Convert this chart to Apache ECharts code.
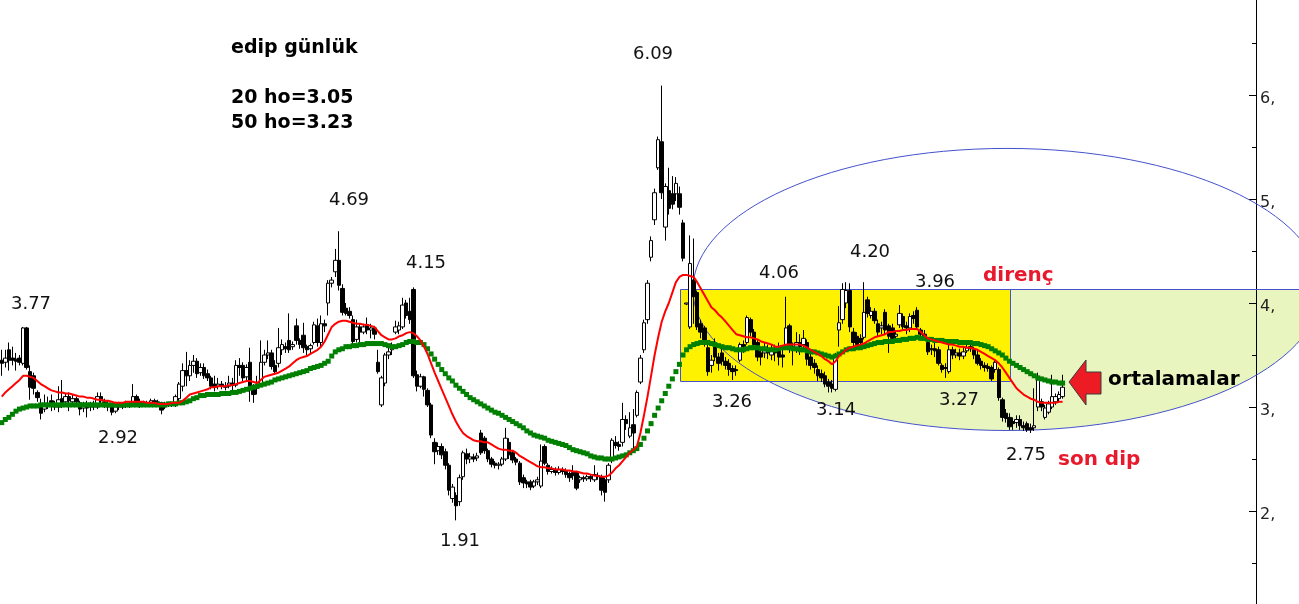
<!DOCTYPE html>
<html><head><meta charset="utf-8">
<script src="https://cdn.jsdelivr.net/npm/echarts@6/dist/echarts.min.js"></script>
<style>html,body{margin:0;padding:0;background:#fff}#c{width:1299px;height:604px}</style>
</head><body><div id="c"></div>
<script>
// ---------- DATA ----------
// candles: [open, close, low, high]
const candles = [
[3.45,3.42,3.30,3.55],[3.43,3.47,3.38,3.55],[3.55,3.45,3.35,3.62],[3.47,3.45,3.40,3.58],[3.46,3.44,3.35,3.52],[3.47,3.43,3.40,3.50],[3.42,3.76,3.40,3.77],[3.76,3.38,3.36,3.77],[3.34,3.19,3.07,3.40],[3.30,3.18,3.12,3.33],
[3.14,3.09,3.05,3.16],[3.02,2.94,2.88,3.08],[2.98,3.02,2.95,3.12],[3.03,3.02,2.98,3.10],[3.06,3.03,2.96,3.12],[3.02,3.00,2.97,3.06],[3.00,3.07,2.95,3.20],[3.08,3.04,2.99,3.26],[3.05,3.10,3.01,3.13],[3.10,3.06,2.96,3.14],
[3.05,3.08,3.02,3.12],[3.08,3.05,3.00,3.10],[3.04,2.98,2.92,3.06],[2.99,3.02,2.95,3.05],[3.02,2.99,2.90,3.06],[3.00,3.02,2.96,3.05],[3.02,3.00,2.97,3.06],[3.00,3.10,2.98,3.14],[3.10,3.06,3.02,3.14],[3.05,3.03,2.99,3.08],
[3.03,3.00,2.96,3.06],[3.00,2.95,2.92,3.02],[2.96,3.00,2.94,3.05],[3.00,3.02,2.97,3.05],[3.02,3.00,2.98,3.04],[3.01,3.03,2.99,3.06],[3.03,3.02,2.99,3.05],[3.04,3.10,3.02,3.22],[3.10,3.03,3.00,3.12],[3.05,3.02,2.99,3.08],
[3.02,3.04,3.00,3.06],[3.04,3.03,3.00,3.06],[3.03,3.06,3.01,3.08],[3.06,3.04,3.02,3.08],[3.04,3.05,3.02,3.07],[3.04,2.97,2.93,3.05],[3.00,3.02,2.98,3.05],[3.02,3.03,3.00,3.05],[3.03,3.02,3.00,3.05],[3.03,3.10,3.00,3.12],
[3.08,3.22,3.05,3.24],[3.20,3.35,3.15,3.42],[3.35,3.30,3.20,3.53],[3.30,3.40,3.25,3.45],[3.40,3.44,3.33,3.50],[3.44,3.32,3.28,3.47],[3.33,3.38,3.30,3.42],[3.38,3.30,3.27,3.42],[3.32,3.28,3.25,3.36],[3.28,3.20,3.17,3.30],
[3.22,3.19,3.15,3.30],[3.20,3.22,3.17,3.28],[3.22,3.20,3.17,3.25],[3.20,3.19,3.16,3.24],[3.20,3.23,3.18,3.30],[3.23,3.21,3.15,3.28],[3.21,3.40,3.19,3.45],[3.40,3.38,3.30,3.47],[3.40,3.28,3.25,3.43],[3.29,3.38,3.26,3.41],
[3.43,3.20,3.05,3.57],[3.17,3.12,3.04,3.22],[3.18,3.22,3.12,3.30],[3.22,3.43,3.20,3.64],[3.43,3.50,3.40,3.55],[3.50,3.52,3.46,3.64],[3.52,3.39,3.36,3.55],[3.40,3.34,3.32,3.45],[3.42,3.57,3.38,3.76],[3.55,3.60,3.50,3.65],
[3.58,3.56,3.52,3.62],[3.64,3.55,3.52,3.90],[3.58,3.60,3.55,3.63],[3.78,3.64,3.60,3.85],[3.64,3.60,3.56,3.66],[3.69,3.57,3.52,3.81],[3.58,3.55,3.50,3.60],[3.56,3.59,3.52,3.61],[3.62,3.79,3.60,3.82],[3.78,3.62,3.58,3.85],
[3.62,3.80,3.58,3.88],[3.80,3.78,3.72,3.84],[4.00,4.19,3.88,4.22],[4.19,4.22,4.15,4.25],[4.30,4.41,4.25,4.52],[4.41,4.17,4.12,4.69],[4.14,3.91,3.88,4.18],[3.95,3.90,3.88,4.00],[3.92,3.88,3.85,3.96],[3.84,3.63,3.60,3.88],
[3.65,3.77,3.62,3.84],[3.77,3.72,3.62,3.80],[3.72,3.77,3.70,3.80],[3.79,3.74,3.70,3.86],[3.74,3.76,3.66,3.80],[3.76,3.70,3.65,3.78],[3.43,3.34,3.32,3.55],[3.02,3.28,3.00,3.30],[3.23,3.50,3.20,3.52],[3.50,3.53,3.46,3.58],
[3.55,3.57,3.50,3.62],[3.72,3.77,3.70,3.83],[3.74,3.78,3.70,3.82],[3.77,3.98,3.75,4.05],[4.00,3.88,3.85,4.03],[3.92,3.84,3.80,4.05],[4.13,3.30,3.28,4.15],[3.31,3.20,3.15,3.35],[3.20,3.29,3.18,3.32],[3.29,3.17,3.10,3.30],
[3.16,3.02,3.00,3.18],[3.02,2.73,2.70,3.04],[2.66,2.57,2.45,2.70],[2.58,2.62,2.54,2.66],[2.62,2.54,2.50,2.65],[2.57,2.44,2.40,2.60],[2.44,2.20,2.15,2.46],[2.12,2.23,2.08,2.26],[2.15,2.05,1.91,2.18],[2.09,2.32,2.05,2.35],
[2.33,2.56,2.30,2.58],[2.55,2.50,2.45,2.60],[2.50,2.52,2.46,2.56],[2.52,2.50,2.47,2.55],[2.51,2.53,2.48,2.56],[2.75,2.56,2.54,2.78],[2.70,2.58,2.55,2.72],[2.58,2.50,2.47,2.60],[2.50,2.45,2.42,2.52],[2.46,2.44,2.41,2.48],
[2.44,2.45,2.40,2.47],[2.45,2.50,2.43,2.52],[2.50,2.70,2.48,2.80],[2.66,2.54,2.50,2.70],[2.56,2.49,2.46,2.58],[2.50,2.47,2.44,2.52],[2.46,2.28,2.25,2.48],[2.32,2.27,2.22,2.35],[2.28,2.26,2.22,2.30],[2.28,2.23,2.20,2.30],
[2.24,2.28,2.22,2.30],[2.28,2.30,2.25,2.33],[2.24,2.48,2.22,2.64],[2.62,2.46,2.44,2.64],[2.44,2.38,2.35,2.46],[2.38,2.40,2.36,2.43],[2.40,2.37,2.34,2.42],[2.37,2.40,2.35,2.43],[2.40,2.38,2.35,2.42],[2.38,2.35,2.32,2.41],
[2.36,2.32,2.28,2.38],[2.37,2.34,2.30,2.44],[2.37,2.22,2.20,2.38],[2.30,2.32,2.27,2.34],[2.32,2.31,2.28,2.34],[2.31,2.33,2.29,2.35],[2.33,2.31,2.28,2.35],[2.30,2.35,2.28,2.44],[2.34,2.33,2.30,2.37],[2.33,2.20,2.15,2.35],
[2.30,2.18,2.09,2.32],[2.30,2.44,2.27,2.46],[2.49,2.68,2.46,2.70],[2.66,2.63,2.60,2.72],[2.64,2.62,2.58,2.67],[2.66,2.88,2.62,3.04],[2.88,2.84,2.78,2.92],[2.72,2.80,2.70,2.95],[2.83,2.75,2.60,2.98],[2.92,3.14,2.90,3.16],
[3.24,3.47,3.22,3.50],[3.55,3.81,3.52,3.84],[3.84,4.19,3.80,4.22],[4.44,4.60,4.40,4.64],[4.80,5.06,4.75,5.10],[5.30,5.57,5.28,5.60],[5.55,5.06,5.00,6.09],[4.73,5.12,4.60,5.15],[5.08,4.91,4.85,5.30],[5.05,4.95,4.90,5.22],
[5.05,5.15,4.98,5.21],[5.05,4.92,4.85,5.12],[4.77,4.43,4.40,4.80],[3.99,4.00,3.98,4.00],[3.77,4.38,3.75,4.65],[4.22,4.06,3.80,4.62],[4.10,3.77,3.74,4.12],[3.80,3.72,3.66,3.84],[3.76,3.64,3.58,3.78],[3.57,3.34,3.30,3.60],
[3.40,3.45,3.33,3.50],[3.58,3.48,3.44,3.66],[3.48,3.42,3.35,3.52],[3.52,3.44,3.40,3.56],[3.44,3.40,3.36,3.48],[3.42,3.36,3.30,3.46],[3.37,3.34,3.26,3.40],[3.36,3.35,3.30,3.40],[3.45,3.60,3.43,3.62],[3.60,3.58,3.52,3.64],
[3.62,3.86,3.60,3.88],[3.84,3.72,3.68,3.86],[3.72,3.60,3.55,3.75],[3.62,3.48,3.44,3.65],[3.52,3.48,3.40,3.58],[3.52,3.54,3.47,3.62],[3.54,3.52,3.46,3.60],[3.50,3.55,3.45,3.60],[3.56,3.52,3.44,3.60],[3.58,3.48,3.40,3.62],
[3.50,3.48,3.38,3.56],[3.60,3.76,3.58,4.06],[3.78,3.56,3.52,3.80],[3.58,3.55,3.40,3.62],[3.56,3.62,3.52,3.72],[3.62,3.58,3.50,3.70],[3.60,3.66,3.55,3.74],[3.62,3.46,3.40,3.65],[3.48,3.40,3.36,3.52],[3.42,3.38,3.32,3.46],
[3.36,3.30,3.25,3.40],[3.32,3.28,3.24,3.36],[3.30,3.22,3.19,3.34],[3.24,3.20,3.14,3.27],[3.22,3.18,3.14,3.26],[3.17,3.48,3.15,3.52],[3.74,3.81,3.58,3.97],[3.84,4.13,3.80,4.19],[4.00,4.12,3.95,4.20],[4.12,3.77,3.72,4.19],
[3.72,3.62,3.58,3.76],[3.68,3.60,3.56,3.72],[3.66,3.62,3.55,3.70],[3.67,3.91,3.65,4.20],[4.03,3.90,3.86,4.06],[3.88,3.92,3.85,3.96],[3.92,3.83,3.80,3.95],[3.80,3.72,3.68,3.84],[3.76,3.78,3.70,3.82],[3.91,3.74,3.70,3.94],
[3.78,3.68,3.52,3.80],[3.76,3.66,3.62,3.80],[3.68,3.70,3.64,3.74],[3.79,3.90,3.76,3.98],[3.87,3.77,3.74,3.90],[3.78,3.76,3.70,3.82],[3.76,3.87,3.72,3.90],[3.88,3.85,3.80,3.92],[3.93,3.77,3.74,3.96],[3.74,3.70,3.66,3.76],
[3.70,3.68,3.64,3.74],[3.62,3.53,3.50,3.65],[3.56,3.55,3.50,3.60],[3.56,3.54,3.48,3.62],[3.55,3.42,3.40,3.58],[3.40,3.36,3.33,3.42],[3.38,3.37,3.28,3.42],[3.34,3.55,3.32,3.60],[3.55,3.50,3.46,3.58],[3.50,3.52,3.47,3.56],
[3.52,3.49,3.45,3.56],[3.49,3.53,3.46,3.58],[3.54,3.57,3.52,3.62],[3.58,3.56,3.53,3.62],[3.55,3.50,3.46,3.58],[3.50,3.42,3.40,3.54],[3.44,3.40,3.36,3.47],[3.40,3.38,3.34,3.43],[3.39,3.37,3.34,3.42],[3.38,3.27,3.25,3.40],
[3.36,3.43,3.33,3.45],[3.36,3.09,3.06,3.38],[3.07,2.90,2.86,3.09],[2.94,2.89,2.85,2.98],[2.90,2.81,2.78,2.94],[2.86,2.84,2.78,2.90],[2.85,2.88,2.80,2.92],[2.88,2.82,2.78,2.92],[2.82,2.80,2.77,2.86],[2.84,2.78,2.76,2.86],
[2.80,2.78,2.75,2.84],[2.80,2.82,2.77,3.18],[3.00,3.26,2.96,3.33],[3.05,3.00,2.96,3.08],[2.90,2.99,2.88,3.02],[2.95,3.03,2.93,3.06],[3.00,3.10,2.98,3.31],[3.05,3.10,3.02,3.13],[3.08,3.12,3.05,3.15],[3.10,3.19,3.08,3.31]
];
// 20-bar average (red)
const ma20 = [
3.10,3.14,3.17,3.20,3.23,3.26,3.30,3.30,3.29,3.28,
3.25,3.22,3.20,3.18,3.16,3.15,3.14,3.14,3.13,3.13,
3.12,3.11,3.10,3.10,3.09,3.09,3.08,3.07,3.07,3.06,
3.06,3.05,3.04,3.04,3.04,3.05,3.05,3.05,3.05,3.05,
3.05,3.04,3.04,3.04,3.03,3.03,3.03,3.03,3.04,3.04,
3.04,3.06,3.09,3.12,3.13,3.14,3.15,3.16,3.17,3.19,
3.19,3.20,3.20,3.20,3.21,3.21,3.22,3.23,3.24,3.25,
3.25,3.24,3.23,3.26,3.29,3.30,3.31,3.32,3.33,3.35,
3.37,3.39,3.42,3.45,3.47,3.48,3.49,3.51,3.53,3.55,
3.58,3.63,3.70,3.77,3.80,3.82,3.83,3.83,3.82,3.81,
3.80,3.80,3.79,3.79,3.78,3.77,3.73,3.69,3.67,3.65,
3.65,3.66,3.68,3.69,3.71,3.72,3.71,3.68,3.64,3.58,
3.51,3.42,3.33,3.25,3.17,3.09,3.01,2.93,2.86,2.80,
2.75,2.72,2.70,2.68,2.67,2.67,2.66,2.66,2.64,2.62,
2.60,2.59,2.59,2.58,2.58,2.56,2.53,2.51,2.49,2.47,
2.45,2.43,2.42,2.42,2.41,2.41,2.40,2.40,2.40,2.39,
2.39,2.38,2.38,2.37,2.36,2.36,2.35,2.34,2.34,2.33,
2.33,2.34,2.37,2.41,2.44,2.48,2.52,2.56,2.59,2.62,
2.75,2.92,3.10,3.30,3.50,3.67,3.82,3.92,4.00,4.10,
4.20,4.25,4.27,4.27,4.26,4.25,4.20,4.14,4.08,4.02,
3.96,3.93,3.89,3.86,3.82,3.78,3.74,3.70,3.69,3.68,
3.67,3.67,3.66,3.65,3.63,3.62,3.61,3.60,3.58,3.58,
3.59,3.60,3.60,3.60,3.60,3.60,3.59,3.57,3.55,3.53,
3.51,3.49,3.46,3.44,3.41,3.44,3.49,3.52,3.55,3.57,
3.58,3.59,3.60,3.61,3.63,3.65,3.67,3.68,3.69,3.70,
3.72,3.72,3.73,3.73,3.74,3.74,3.75,3.75,3.75,3.72,
3.69,3.66,3.65,3.64,3.63,3.62,3.61,3.60,3.60,3.59,
3.58,3.58,3.57,3.57,3.56,3.55,3.53,3.51,3.49,3.47,
3.45,3.42,3.38,3.33,3.28,3.23,3.18,3.15,3.12,3.10,
3.08,3.07,3.05,3.04,3.04,3.04,3.04,3.04,3.05,3.05
];
// 50-bar average (green)
const ma50 = [
2.85,2.88,2.90,2.93,2.96,2.98,2.99,3.00,3.01,3.01,
3.01,3.02,3.02,3.02,3.02,3.02,3.02,3.02,3.02,3.02,
3.02,3.02,3.02,3.02,3.02,3.02,3.02,3.02,3.02,3.02,
3.02,3.02,3.02,3.02,3.02,3.02,3.02,3.02,3.02,3.02,
3.02,3.02,3.02,3.02,3.02,3.02,3.02,3.03,3.03,3.03,
3.04,3.04,3.05,3.06,3.08,3.09,3.11,3.11,3.12,3.12,
3.12,3.12,3.13,3.13,3.13,3.14,3.14,3.15,3.16,3.17,
3.18,3.19,3.20,3.21,3.22,3.23,3.24,3.26,3.27,3.28,
3.29,3.30,3.31,3.32,3.33,3.34,3.35,3.37,3.38,3.39,
3.40,3.42,3.44,3.49,3.53,3.55,3.56,3.58,3.58,3.59,
3.59,3.60,3.60,3.61,3.61,3.61,3.61,3.61,3.60,3.59,
3.58,3.58,3.59,3.60,3.62,3.63,3.63,3.62,3.62,3.60,
3.56,3.51,3.46,3.41,3.36,3.32,3.28,3.25,3.21,3.18,
3.15,3.12,3.09,3.07,3.05,3.03,3.01,2.99,2.97,2.95,
2.94,2.92,2.90,2.88,2.86,2.84,2.82,2.80,2.77,2.75,
2.73,2.72,2.71,2.70,2.68,2.67,2.66,2.65,2.64,2.63,
2.61,2.59,2.58,2.57,2.56,2.55,2.53,2.52,2.51,2.51,
2.50,2.50,2.50,2.51,2.52,2.53,2.54,2.56,2.58,2.60,
2.64,2.70,2.77,2.84,2.92,2.99,3.06,3.13,3.20,3.27,
3.34,3.41,3.50,3.55,3.58,3.60,3.61,3.62,3.62,3.62,
3.61,3.60,3.59,3.58,3.57,3.57,3.56,3.55,3.55,3.55,
3.56,3.57,3.57,3.57,3.56,3.56,3.55,3.55,3.55,3.56,
3.57,3.57,3.57,3.56,3.56,3.55,3.55,3.54,3.53,3.53,
3.52,3.51,3.50,3.49,3.48,3.49,3.51,3.53,3.55,3.56,
3.56,3.57,3.57,3.58,3.59,3.60,3.61,3.62,3.62,3.63,
3.63,3.63,3.64,3.64,3.65,3.65,3.66,3.66,3.67,3.66,
3.66,3.65,3.65,3.64,3.64,3.64,3.63,3.63,3.63,3.63,
3.62,3.62,3.62,3.62,3.61,3.61,3.60,3.59,3.58,3.56,
3.54,3.52,3.50,3.47,3.44,3.42,3.40,3.38,3.36,3.34,
3.32,3.30,3.28,3.27,3.26,3.25,3.24,3.24,3.23,3.23
];
const yTickValues = [2, 3, 4, 5, 6];
const yMinorTickValues = [1.5, 2.5, 3.5, 4.5, 5.5, 6.5];
const valueLabels = ['3.77','2.92','4.69','4.15','1.91','6.09','4.06','3.26','3.14','4.20','3.96','3.27','2.75'];
const titleLines = ['edip günlük', '20 ho=3.05', '50 ho=3.23'];
const notes = ['direnç', 'son dip', 'ortalamalar'];
const totalSlots = 354;
const categories = Array.from({length: totalSlots}, (_, i) => 'G' + (i + 1));

// ---------- LAYOUT / STYLE ----------
const FONT = '"DejaVu Sans", Verdana, sans-serif';
const Y_MIN = 1.106, Y_MAX = 6.913;
const GRID_RIGHT = 43;
const chart = echarts.init(document.getElementById('c'), null, {renderer: 'canvas'});
chart.setOption({
  animation: false,
  backgroundColor: '#ffffff',
  grid: {left: 0, right: GRID_RIGHT, top: 0, bottom: 0, containLabel: false},
  xAxis: [
    {type: 'category', data: categories, show: false, boundaryGap: true},
    {type: 'value', min: -0.5, max: totalSlots - 0.5, show: false}
  ],
  yAxis: [
    {type: 'value', position: 'right', min: Y_MIN, max: Y_MAX,
     axisLine: {show: true, onZero: false, lineStyle: {color: '#000', width: 1}},
     axisTick: {show: true, inside: true, length: 7, customValues: yTickValues, lineStyle: {color: '#000'}},
     axisLabel: {show: true, customValues: yTickValues, formatter: v => v + ',', color: '#222',
                 fontFamily: FONT, fontSize: 16, margin: 4, verticalAlign: 'top', lineHeight: 8},
     splitLine: {show: false}}
  ],
  series: [
    {type: 'candlestick', data: candles, xAxisIndex: 0, yAxisIndex: 0, barWidth: 4, z: 3,
     itemStyle: {color: '#ffffff', color0: '#000000', borderColor: '#000000', borderColor0: '#000000',
                 borderColorDoji: '#000000', borderWidth: 1}},
    {type: 'line', data: ma50, xAxisIndex: 0, yAxisIndex: 0, z: 4, symbol: 'rect', symbolSize: 5,
     showSymbol: true, showAllSymbol: true, lineStyle: {width: 0, opacity: 0},
     itemStyle: {color: '#008000', borderWidth: 0}},
    {type: 'line', data: ma20, xAxisIndex: 0, yAxisIndex: 0, z: 5, symbol: 'none',
     lineStyle: {color: '#ff0000', width: 2}}
  ]
});

const X = i => chart.convertToPixel({xAxisIndex: 1}, i);
const Y = p => chart.convertToPixel({yAxisIndex: 0}, p);
const W = chart.getWidth();
const axisX = W - GRID_RIGHT;

// annotation geometry, in chart units (slot index, price)
const zone = {i0: 191.2, i1: 284.2, top: 4.13, bottom: 3.25};
const oval = {ci: 283.3, cp: 4.13, ri: 88.5, rp: 1.356};
const gapRange = [292, 299];

const zx0 = X(zone.i0), zx1 = X(zone.i1), zyT = Math.round(Y(zone.top)) + 0.5, zyB = Math.round(Y(zone.bottom)) + 0.5;
const ocx = X(oval.ci), ocy = Y(oval.cp), orx = X(oval.ci + oval.ri) - ocx, ory = Y(oval.cp - oval.rp) - ocy;
const halfPts = [];
for (let k = 0; k <= 90; k++) {
  const t = Math.PI * k / 90;
  halfPts.push([ocx + orx * Math.cos(t), ocy + ory * Math.sin(t)]);
}
const gapPts = [];
for (let i = gapRange[0]; i <= gapRange[1]; i++) gapPts.push([X(i), Y(ma50[i])]);
for (let i = gapRange[1]; i >= gapRange[0]; i--) gapPts.push([X(i), Y(ma20[i])]);

const BLUE = '#4552cc';
const els = [];
els.push({type: 'polygon', z: 0, silent: true, shape: {points: halfPts}, style: {fill: '#e8f5bf'}});
els.push({type: 'rect', z: 0, silent: true, shape: {x: zx0, y: zyT, width: zx1 - zx0, height: zyB - zyT}, style: {fill: '#fff200'}});
els.push({type: 'polygon', z: 0, silent: true, shape: {points: gapPts}, style: {fill: '#ffffff'}});
els.push({type: 'ellipse', z: 1, silent: true, shape: {cx: ocx, cy: ocy, rx: orx, ry: ory}, style: {fill: 'none', stroke: BLUE, lineWidth: 1}});
els.push({type: 'rect', z: 1, silent: true, shape: {x: Math.round(zx0) + 0.5, y: zyT, width: Math.round(zx1 - zx0), height: zyB - zyT}, style: {fill: 'none', stroke: BLUE, lineWidth: 1}});
els.push({type: 'line', z: 1, silent: true, shape: {x1: zx1, y1: zyT, x2: W, y2: zyT}, style: {stroke: BLUE, lineWidth: 1}});

// minor ticks of the price axis
yMinorTickValues.forEach(v => {
  const y = Math.round(Y(v)) + 0.5;
  els.push({type: 'line', z: 5, silent: true, shape: {x1: axisX - 4, y1: y, x2: axisX, y2: y}, style: {stroke: '#000', lineWidth: 1}});
});

// value labels (centre positions in pixels)
const valuePos = [[31,304],[118,438],[349,200],[426,263],[460,541],[653,54],[779,273],[732,402],[836,410],[870,252],[935,282],[959,400],[1026,455]];
valueLabels.forEach((t, k) => {
  els.push({type: 'text', z: 10, silent: true, x: valuePos[k][0], y: valuePos[k][1],
    style: {text: t, font: '18px ' + FONT, fill: '#111', align: 'center', verticalAlign: 'middle'}});
});
const titleY = [48, 98, 123];
titleLines.forEach((t, k) => {
  els.push({type: 'text', z: 10, silent: true, x: 231, y: titleY[k],
    style: {text: t, font: 'bold 19px ' + FONT, fill: '#000', align: 'left', verticalAlign: 'middle'}});
});
const notePos = [[983, 276, '#e8192c'], [1058, 460, '#e8192c'], [1108, 380, '#000']];
notes.forEach((t, k) => {
  els.push({type: 'text', z: 10, silent: true, x: notePos[k][0], y: notePos[k][1],
    style: {text: t, font: 'bold 20px ' + FONT, fill: notePos[k][2], align: 'left', verticalAlign: 'middle'}});
});
// arrow pointing at the averages
els.push({type: 'polygon', z: 10, silent: true,
  shape: {points: [[1069,382],[1086,360],[1086,372],[1101,372],[1101,394],[1086,394],[1086,405]]},
  style: {fill: '#ed1c24', stroke: '#3a3a3a', lineWidth: 1}});

chart.setOption({graphic: {elements: els}});
</script>
</body></html>
